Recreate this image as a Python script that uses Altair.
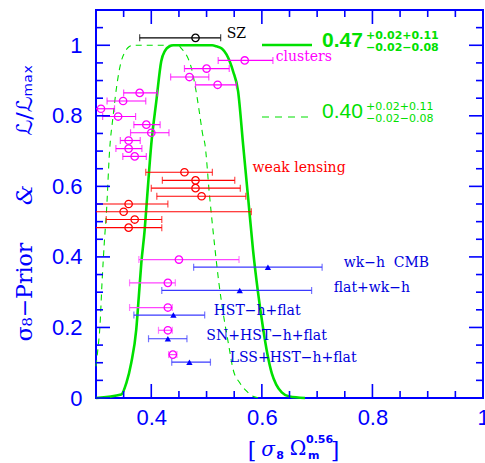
import altair as alt
import pandas as pd

# ---------------- data ----------------
# likelihood curves
solid_x = [0.300, 0.3457, 0.355, 0.3638, 0.3728, 0.3775, 0.382, 0.388, 0.393, 0.400, 0.409, 0.418, 0.425,
           0.433, 0.440, 0.510, 0.518, 0.528, 0.536, 0.548, 0.557, 0.566, 0.575, 0.584, 0.593, 0.602,
           0.610, 0.618, 0.626, 0.636, 0.650, 0.678]
solid_y = [0.0, 0.01, 0.043, 0.10, 0.194, 0.289, 0.383, 0.476, 0.58, 0.72, 0.84, 0.955, 0.985,
           0.997, 1.0, 1.0, 0.997, 0.99, 0.974, 0.926, 0.87, 0.72, 0.57, 0.42, 0.30, 0.20,
           0.125, 0.07, 0.038, 0.016, 0.004, 0.0]
dash_x = [0.300, 0.3035, 0.307, 0.311, 0.315, 0.319, 0.3245, 0.331, 0.337, 0.3457, 0.352, 0.3576, 0.367,
          0.448, 0.455, 0.463, 0.4725, 0.481, 0.487, 0.493, 0.497, 0.505, 0.5147, 0.522, 0.530, 0.540,
          0.548, 0.560, 0.572, 0.584, 0.595]
dash_y = [0.09, 0.14, 0.20, 0.33, 0.44, 0.53, 0.70, 0.80, 0.879, 0.955, 0.98, 0.993, 1.0,
          1.0, 0.99, 0.974, 0.936, 0.87, 0.81, 0.747, 0.72, 0.58, 0.43, 0.33, 0.241, 0.15,
          0.081, 0.043, 0.02, 0.005, 0.0]

# SZ
sz_x, sz_lo, sz_hi, sz_y = [0.480], [0.379], [0.5255], [1.021]

# clusters
cl_x = [0.569, 0.500, 0.469, 0.520, 0.379, 0.349, 0.309, 0.340, 0.391, 0.400, 0.359, 0.359, 0.370]
cl_lo = [0.521, 0.460, 0.435, 0.480, 0.350, 0.320, 0.280, 0.312, 0.3685, 0.3625, 0.344, 0.336, 0.3485]
cl_hi = [0.620, 0.541, 0.504, 0.554, 0.411, 0.390, 0.3335, 0.3716, 0.416, 0.432, 0.380, 0.383, 0.391]
cl_y = [0.957, 0.934, 0.910, 0.888, 0.865, 0.842, 0.820, 0.798, 0.775, 0.752, 0.730, 0.707, 0.685]

# weak lensing
wl_x = [0.460, 0.480, 0.480, 0.491, 0.359, 0.350, 0.370, 0.359]
wl_lo = [0.390, 0.420, 0.400, 0.410, 0.280, 0.280, 0.3185, 0.280]
wl_hi = [0.5105, 0.551, 0.561, 0.571, 0.430, 0.581, 0.419, 0.419]
wl_y = [0.640, 0.617, 0.595, 0.572, 0.550, 0.528, 0.506, 0.483]

# CMB combinations (triangles)
cmb_x = [0.611, 0.560, 0.440, 0.430, 0.469]
cmb_lo = [0.4766, 0.419, 0.3685, 0.395, 0.437]
cmb_hi = [0.709, 0.690, 0.4966, 0.4645, 0.507]
cmb_y = [0.371, 0.305, 0.235, 0.168, 0.1015]
cmb_labels = ["wk\u2212h\u00a0\u00a0CMB", "flat+wk\u2212h", "HST\u2212h+flat", "SN+HST\u2212h+flat", "LSS+HST\u2212h+flat"]
cmb_label_x = [0.748, 0.730, 0.5128, 0.4996, 0.5418]
cmb_label_y = [0.384, 0.313, 0.248, 0.177, 0.114]

# magenta circles paired with CMB combinations
mc_x = [0.450, 0.430, 0.430, 0.430, 0.439]
mc_lo = [0.3775, 0.3607, 0.3607, 0.413, 0.4313]
mc_hi = [0.5587, 0.4435, 0.438, 0.438, 0.4464]
mc_y = [0.3925, 0.3265, 0.2565, 0.192, 0.123]

# group labels
grp_labels = ["SZ", "clusters", "weak lensing"]
grp_label_x = [0.5364, 0.625, 0.5833]
grp_label_y = [1.033, 0.968, 0.653]

# axis ticks
x_major = [0.4, 0.6, 0.8, 1.0]
x_minor = [0.35, 0.45, 0.5, 0.55, 0.65, 0.7, 0.75, 0.85, 0.9, 0.95]
y_major = [0.0, 0.2, 0.4, 0.6, 0.8, 1.0]
y_minor = [0.05, 0.1, 0.15, 0.25, 0.3, 0.35, 0.45, 0.5, 0.55, 0.65, 0.7, 0.75, 0.85, 0.9, 0.95, 1.05]

# ---------------- chart ----------------
W, H = 387, 388
BLUE = "#0000ff"
GREEN = "#00e000"
MAG = "#ff00ff"
RED = "#ff0000"
CMBBAR = "#3a3aff"

xs = alt.Scale(domain=[0.3, 1.0], nice=False, zero=False)
ys = alt.Scale(domain=[0.0, 1.1], nice=False, zero=False)
AX = alt.Axis(values=x_major, format=".1~f", labelPadding=9, labelFlush=False,
              ticks=False, domain=False, grid=False)
AY = alt.Axis(values=y_major, format=".1~f", labelPadding=14,
              ticks=False, domain=False, grid=False)


def X(f="x"):
    return alt.X(f"{f}:Q", scale=xs, axis=AX, title="")


def Y(f="y"):
    return alt.Y(f"{f}:Q", scale=ys, axis=AY, title="")


curve_solid = alt.Chart(pd.DataFrame({"x": solid_x, "y": solid_y})).mark_line(
    color=GREEN, strokeWidth=2.6, interpolate="monotone").encode(x=X(), y=Y())
curve_dash = alt.Chart(pd.DataFrame({"x": dash_x, "y": dash_y})).mark_line(
    color=GREEN, strokeWidth=1.1, strokeDash=[6, 5], interpolate="monotone").encode(x=X(), y=Y())


def errbars(xv, lo, hi, yv, bar_color, marker_color, shape, filled, size, cap=7):
    df = pd.DataFrame({"x": xv, "lo": lo, "hi": hi, "y": yv})
    rule = alt.Chart(df).mark_rule(color=bar_color, strokeWidth=1.2, clip=True).encode(
        x=X("lo"), x2="hi:Q", y=Y())
    cap_lo = alt.Chart(df).mark_tick(color=bar_color, orient="vertical", size=cap, thickness=1.2,
                                     clip=True).encode(x=X("lo"), y=Y())
    cap_hi = alt.Chart(df).mark_tick(color=bar_color, orient="vertical", size=cap, thickness=1.2,
                                     clip=True).encode(x=X("hi"), y=Y())
    if filled:
        pt = alt.Chart(df).mark_point(shape=shape, filled=True, color=marker_color, size=size,
                                      opacity=1).encode(x=X(), y=Y())
    else:
        pt = alt.Chart(df).mark_point(shape=shape, filled=False, color=marker_color, size=size,
                                      strokeWidth=1.3, opacity=1).encode(x=X(), y=Y())
    return [rule, cap_lo, cap_hi, pt]


layers = [curve_dash, curve_solid]
layers += errbars(sz_x, sz_lo, sz_hi, sz_y, "#000000", "#000000", "circle", False, 55)
layers += errbars(cl_x, cl_lo, cl_hi, cl_y, MAG, MAG, "circle", False, 55)
layers += errbars(wl_x, wl_lo, wl_hi, wl_y, RED, RED, "circle", False, 55)
layers += errbars(mc_x, mc_lo, mc_hi, mc_y, "#ff44ff", MAG, "circle", False, 55)
layers += errbars(cmb_x, cmb_lo, cmb_hi, cmb_y, CMBBAR, BLUE, "triangle-up", True, 40)

# group labels
grp_df = pd.DataFrame({"t": grp_labels, "x": grp_label_x, "y": grp_label_y})
grp_colors = ["#000000", MAG, RED]
for i in range(3):
    layers.append(
        alt.Chart(grp_df.iloc[[i]]).mark_text(
            align="left", baseline="middle", font="DejaVu Serif", fontSize=14, color=grp_colors[i]
        ).encode(x=X(), y=Y(), text="t:N")
    )

cmb_lab_df = pd.DataFrame({"t": cmb_labels, "x": cmb_label_x, "y": cmb_label_y})
layers.append(
    alt.Chart(cmb_lab_df).mark_text(
        align="left", baseline="middle", font="DejaVu Serif", fontSize=14, color="#0000dd"
    ).encode(x=X(), y=Y(), text="t:N")
)


# inward ticks on all four sides
def tick_rules(vals, length, axis):
    df = pd.DataFrame({"v": vals})
    c = alt.Chart(df).mark_rule(color=BLUE, strokeWidth=1.6)
    if axis == "bottom":
        return c.encode(x=X("v"), y=alt.value(H), y2=alt.value(H - length))
    if axis == "top":
        return c.encode(x=X("v"), y=alt.value(0), y2=alt.value(length))
    if axis == "left":
        return c.encode(y=Y("v"), x=alt.value(0), x2=alt.value(length))
    return c.encode(y=Y("v"), x=alt.value(W), x2=alt.value(W - length))


for side in ["bottom", "top"]:
    layers.append(tick_rules(x_major, 14, side))
    layers.append(tick_rules(x_minor, 7, side))
for side in ["left", "right"]:
    layers.append(tick_rules(y_major, 14, side))
    layers.append(tick_rules(y_minor, 7, side))

# legend lines
leg_df = pd.DataFrame({"k": [0]})
layers.append(alt.Chart(leg_df).mark_rule(color=GREEN, strokeWidth=2.6).encode(
    x=alt.value(166), x2=alt.value(216), y=alt.value(35)))
layers.append(alt.Chart(leg_df).mark_rule(color=GREEN, strokeWidth=1.1, strokeDash=[7, 6]).encode(
    x=alt.value(166), x2=alt.value(214), y=alt.value(107)))


def txt(s, x, y, size, font="Liberation Sans", weight="normal", color=GREEN, align="left",
        baseline="alphabetic", angle=0, style="normal"):
    kw = dict(align=align, baseline=baseline, font=font, fontSize=size, fontWeight=weight,
              color=color, fontStyle=style)
    if angle:
        kw["angle"] = angle
    return alt.Chart(pd.DataFrame({"t": [s]})).mark_text(**kw).encode(
        x=alt.value(x), y=alt.value(y), text="t:N")


legend_main = ["0.47", "0.40"]
legend_sup = "+0.02+0.11"
legend_sub = "\u22120.02\u22120.08"

layers.append(txt(legend_main[0], 226, 37, 21, weight="bold"))
layers.append(txt(legend_sup, 270, 26, 11, font="DejaVu Sans", weight="bold", baseline="middle"))
layers.append(txt(legend_sub, 270, 38, 11, font="DejaVu Sans", weight="bold", baseline="middle"))
layers.append(txt(legend_main[1], 226, 108, 21))
layers.append(txt(legend_sup, 270, 97, 11, font="DejaVu Sans", baseline="middle"))
layers.append(txt(legend_sub, 270, 109, 11, font="DejaVu Sans", baseline="middle"))

# y-axis title pieces (rotated)
layers.append(txt("\u03c3\u2088\u2212Prior", -71, 282, 22, font="DejaVu Serif", color=BLUE,
                  align="center", baseline="middle", angle=270))
layers.append(txt("&", -71, 185, 23, font="DejaVu Serif", color=BLUE, style="italic",
                  align="center", baseline="middle", angle=270))
layers.append(txt("\u2112/\u2112\u2098\u2090\u2093", -71, 90, 22, font="DejaVu Sans", color=BLUE,
                  align="center", baseline="middle", angle=270))

# x-axis title pieces
layers.append(txt("[", 156, 441, 22, font="DejaVu Serif", color=BLUE, align="center", baseline="middle"))
layers.append(txt("\u03c3", 172, 440, 20, font="DejaVu Serif", color=BLUE, style="italic",
                  align="center", baseline="middle"))
layers.append(txt("8", 184, 446, 11, font="DejaVu Sans", weight="bold", color=BLUE,
                  align="center", baseline="middle"))
layers.append(txt("\u03a9", 202, 439, 20, font="DejaVu Serif", color=BLUE, align="center", baseline="middle"))
layers.append(txt("0.56", 210, 430, 11, font="DejaVu Sans", weight="bold", color=BLUE,
                  align="left", baseline="middle"))
layers.append(txt("m", 212, 446, 11, font="DejaVu Sans", weight="bold", color=BLUE,
                  align="left", baseline="middle"))
layers.append(txt("]", 239, 441, 22, font="DejaVu Serif", color=BLUE, align="center", baseline="middle"))

chart = alt.layer(*layers).properties(
    width=W, height=H,
    autosize=alt.AutoSizeParams(type="none"),
    padding={"left": 96, "top": 10, "right": 2, "bottom": 65},
).configure_view(
    stroke=BLUE, strokeWidth=2
).configure_axis(
    grid=False, ticks=False, domain=False,
    labelColor=BLUE, labelFont="Liberation Sans", labelFontSize=22,
)

chart.save("out.html", embed_options={"renderer": "svg", "actions": False})
